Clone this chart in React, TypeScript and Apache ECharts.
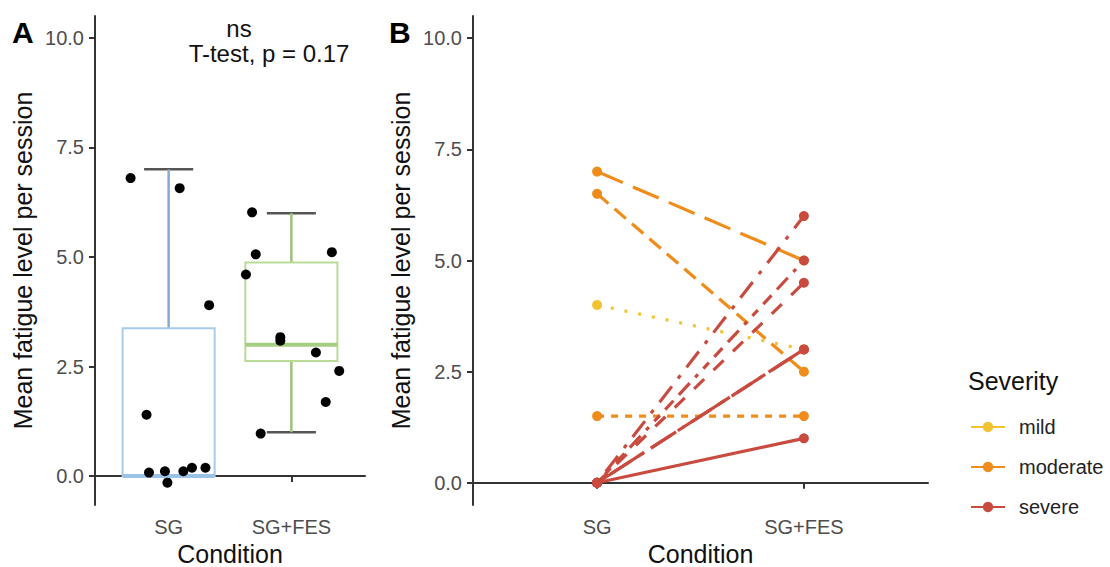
import React, { useEffect, useRef } from "react";
import * as echarts from "echarts";

// ---------- data ----------
const conditions = ["SG", "SG+FES"];
const yTicks = [0, 2.5, 5, 7.5, 10];
const severityLevels = ["mild", "moderate", "severe"];

// per-subject values (panel B) and severity
const subjectSeverity = ["moderate", "moderate", "moderate", "mild", "severe", "severe", "severe", "severe", "severe", "severe"];
const fatigueSG = [7, 6.5, 1.5, 4, 0, 0, 0, 0, 0, 0];
const fatigueSGFES = [5, 2.5, 1.5, 3, 1, 6, 5, 4.5, 3, 3];

// jittered points shown in panel A (offset along x in category units, jittered y)
const jitterSGdx = [-0.31, 0.09, 0.33, -0.18, -0.16, -0.03, -0.01, 0.12, 0.19, 0.3];
const jitterSGy = [6.8, 6.57, 3.9, 1.4, 0.08, 0.11, -0.15, 0.11, 0.19, 0.19];
const jitterFESdx = [-0.32, -0.29, 0.33, -0.37, -0.09, -0.09, 0.2, 0.39, 0.28, -0.25];
const jitterFESy = [6.02, 5.06, 5.11, 4.6, 3.17, 3.09, 2.82, 2.4, 1.69, 0.97];

// ---------- styles ----------
const sevColor: Record<string, string> = { mild: "#F2C231", moderate: "#F08C1A", severe: "#C94B40" };
const subjectDash: any[] = [
  [28, 11],
  [15, 8],
  [7, 7],
  [3, 11],
  "solid",
  [4, 10, 20, 10],
  [4, 8, 8, 8, 12, 8, 16, 8],
  [14, 13],
  [8, 8, 24, 8],
  [56, 8, 30, 8],
];
const boxStyle = [
  { border: "#A9CBEA", whisker: "#86ABD0", median: "#9CC2E6" },
  { border: "#B8DB96", whisker: "#9DC27C", median: "#A6CE82" },
];
const FONT = "'Liberation Sans', Arial, Helvetica, sans-serif";

function boxStats(vals: number[]) {
  const s = [...vals].sort((a, b) => a - b);
  const n = s.length;
  const q = (p: number) => {
    const h = (n - 1) * p;
    const lo = Math.floor(h);
    const hi = Math.min(lo + 1, n - 1);
    return s[lo] + (h - lo) * (s[hi] - s[lo]);
  };
  const q1 = q(0.25), med = q(0.5), q3 = q(0.75);
  const iqr = q3 - q1;
  const lo = Math.min(...s.filter((v) => v >= q1 - 1.5 * iqr));
  const hi = Math.max(...s.filter((v) => v <= q3 + 1.5 * iqr));
  return [lo, q1, med, q3, hi];
}

export default function App() {
  const ref = useRef<HTMLDivElement>(null);
  useEffect(() => {
    if (!ref.current) return;
    const chart = echarts.init(ref.current, undefined, { renderer: "svg" });

    const tickFmt = (v: number) => v.toFixed(1);
    const catFmt = (v: number) => conditions[Math.round(v) - 1] ?? "";

    const xAxisBase = (gridIndex: number) => ({
      type: "value",
      gridIndex,
      min: 0.4,
      max: 2.6,
      axisLine: { lineStyle: { color: "#333", width: 2 } },
      axisTick: { customValues: [1, 2], length: 6, lineStyle: { color: "#333", width: 2 } },
      axisLabel: { customValues: [1, 2], formatter: catFmt, color: "#4D4D4D", fontSize: 20, margin: 12, fontFamily: FONT },
      splitLine: { show: false },
      name: "Condition",
      nameLocation: "middle",
      nameGap: 33,
      nameTextStyle: { fontSize: 25, color: "#111", fontFamily: FONT },
    });
    const yAxisBase = (gridIndex: number, min: number) => ({
      type: "value",
      gridIndex,
      min,
      max: 10.5,
      axisLine: { show: true, lineStyle: { color: "#333", width: 2 } },
      axisTick: { show: true, customValues: yTicks, length: 6, lineStyle: { color: "#333", width: 2 } },
      axisLabel: { customValues: yTicks, formatter: tickFmt, color: "#4D4D4D", fontSize: 20, margin: 11, fontFamily: FONT },
      splitLine: { show: false },
      name: "Mean fatigue level per session",
      nameLocation: "middle",
      nameGap: 60,
      nameTextStyle: { fontSize: 25, color: "#111", fontFamily: FONT },
    });

    const boxData = [
      [1, ...boxStats(fatigueSG)],
      [2, ...boxStats(fatigueSGFES)],
    ];

    const subjectSeries = fatigueSG.map((v, i) => ({
      type: "line",
      name: "subject" + (i + 1),
      xAxisIndex: 1,
      yAxisIndex: 1,
      data: [
        [1, v],
        [2, fatigueSGFES[i]],
      ],
      showSymbol: false,
      symbol: "none",
      lineStyle: { color: sevColor[subjectSeverity[i]], width: 3.2, type: subjectDash[i] },
      z: 2,
      silent: true,
    }));

    const pointsB: any[] = [];
    fatigueSG.forEach((v, i) => {
      const c = sevColor[subjectSeverity[i]];
      pointsB.push({ value: [1, v], itemStyle: { color: c, opacity: 1 } });
      pointsB.push({ value: [2, fatigueSGFES[i]], itemStyle: { color: c, opacity: 1 } });
    });

    const legendSeries = severityLevels.map((s) => ({
      type: "line",
      name: s,
      xAxisIndex: 1,
      yAxisIndex: 1,
      data: [],
      symbol: "circle",
      symbolSize: 9,
      itemStyle: { color: sevColor[s] },
      lineStyle: { color: sevColor[s], width: 3.5 },
    }));

    const option: any = {
      animation: false,
      textStyle: { fontFamily: FONT },
      grid: [
        { left: 95, top: 16, width: 270, height: 489, outerBoundsMode: "none", containLabel: false },
        { left: 473, top: 16, width: 455, height: 489, outerBoundsMode: "none", containLabel: false },
      ],
      xAxis: [xAxisBase(0), xAxisBase(1)],
      yAxis: [yAxisBase(0, -0.66), yAxisBase(1, -0.5)],
      legend: {
        data: severityLevels,
        orient: "vertical",
        left: 965,
        top: 412,
        itemWidth: 34,
        itemHeight: 13,
        itemGap: 20,
        textStyle: { fontSize: 20, color: "#222", fontFamily: FONT, padding: [0, 0, 0, 9] },
        selectedMode: false,
      },
      graphic: [
        { type: "text", left: 12, top: 17, style: { text: "A", font: `bold 30px ${FONT}`, fill: "#000" } },
        { type: "text", left: 389, top: 17, style: { text: "B", font: `bold 30px ${FONT}`, fill: "#000" } },
        { type: "text", x: 239, y: 28, style: { text: "ns", font: `24px ${FONT}`, fill: "#111", align: "center", verticalAlign: "middle" } },
        { type: "text", x: 269, y: 53, style: { text: "T-test, p = 0.17", font: `24px ${FONT}`, fill: "#111", align: "center", verticalAlign: "middle" } },
        { type: "text", x: 968, y: 381, style: { text: "Severity", font: `25px ${FONT}`, fill: "#111", align: "left", verticalAlign: "middle" } },
      ],
      series: [
        {
          type: "custom",
          xAxisIndex: 0,
          yAxisIndex: 0,
          data: boxData,
          silent: true,
          z: 1,
          renderItem: (params: any, api: any) => {
            const x = api.value(0);
            const lo = api.value(1), q1 = api.value(2), med = api.value(3), q3 = api.value(4), hi = api.value(5);
            const st = boxStyle[params.dataIndex];
            const c = (a: number, b: number) => api.coord([a, b]);
            const line = (p1: number[], p2: number[], stroke: string, w: number) => ({
              type: "line",
              shape: { x1: p1[0], y1: p1[1], x2: p2[0], y2: p2[1] },
              style: { stroke, lineWidth: w },
            });
            const tl = c(x - 0.375, q3);
            const br = c(x + 0.375, q1);
            return {
              type: "group",
              children: [
                line(c(x - 0.2, hi), c(x + 0.2, hi), "#555", 2.5),
                line(c(x - 0.2, lo), c(x + 0.2, lo), "#555", 2.5),
                line(c(x, q3), c(x, hi), st.whisker, 2.5),
                line(c(x, q1), c(x, lo), st.whisker, 2.5),
                {
                  type: "rect",
                  shape: { x: tl[0], y: tl[1], width: br[0] - tl[0], height: br[1] - tl[1] },
                  style: { fill: "#fff", stroke: st.border, lineWidth: 2 },
                },
                line(c(x - 0.375, med), c(x + 0.375, med), st.median, 4),
              ],
            };
          },
        },
        {
          type: "scatter",
          xAxisIndex: 0,
          yAxisIndex: 0,
          symbolSize: 10,
          itemStyle: { color: "#000", opacity: 1 },
          z: 3,
          data: [
            ...jitterSGy.map((y, i) => [1 + jitterSGdx[i], y]),
            ...jitterFESy.map((y, i) => [2 + jitterFESdx[i], y]),
          ],
        },
        ...subjectSeries,
        {
          type: "scatter",
          xAxisIndex: 1,
          yAxisIndex: 1,
          symbolSize: 10,
          z: 4,
          data: pointsB,
        },
        ...legendSeries,
      ],
    };
    chart.setOption(option);
    return () => chart.dispose();
  }, []);
  return <div ref={ref} style={{ position: "absolute", left: 0, top: 0, width: 1110, height: 567 }} />;
}
